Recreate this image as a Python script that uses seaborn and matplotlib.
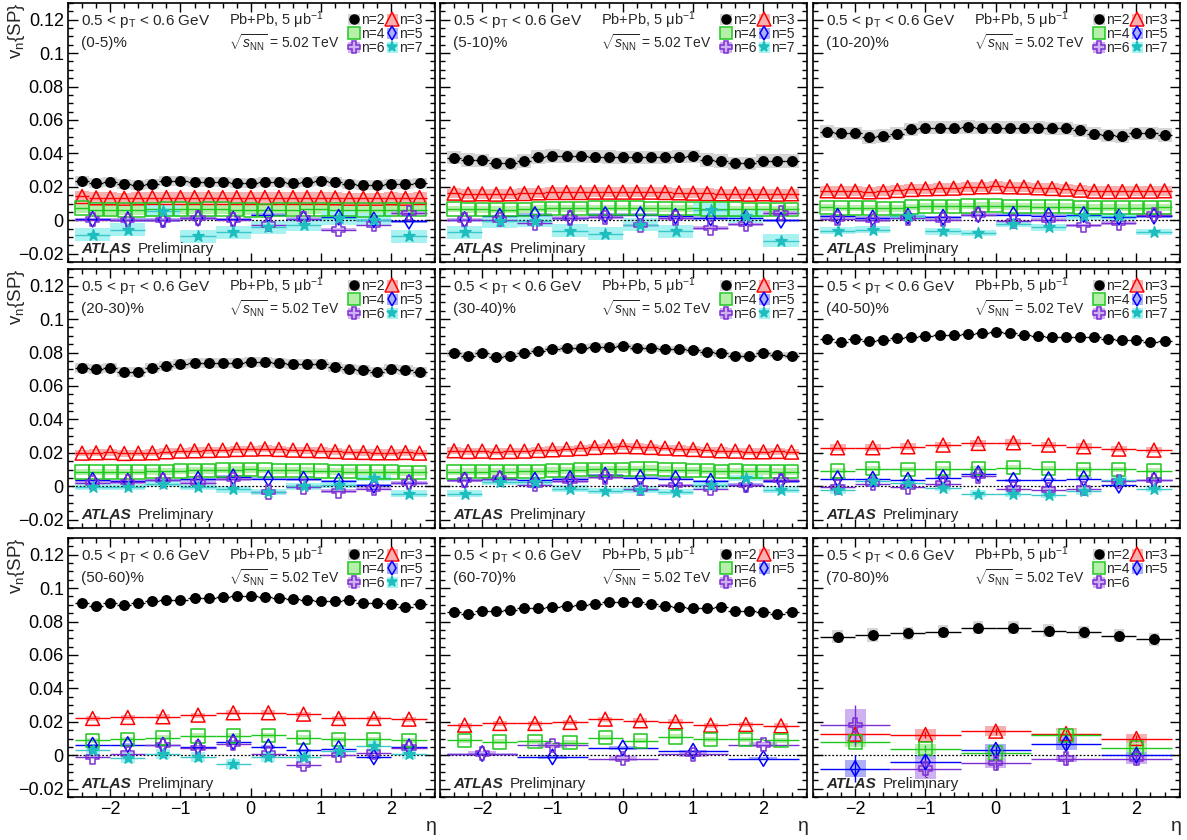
import numpy as np
import pandas as pd
import matplotlib
matplotlib.use("Agg")
import matplotlib.pyplot as plt
from matplotlib.patches import Rectangle
from matplotlib.lines import Line2D
from matplotlib.ticker import MultipleLocator, FixedLocator, FixedFormatter
import seaborn as sns

# DATA: v_n{SP} vs eta, 0.5 < pT < 0.6 GeV
CENT_LABELS = ["(0-5)%", "(5-10)%", "(10-20)%", "(20-30)%", "(30-40)%",
               "(40-50)%", "(50-60)%", "(60-70)%", "(70-80)%"]

# eta bin width used for each harmonic in each centrality panel
BINW2 = [0.2, 0.2, 0.2, 0.2, 0.2, 0.2, 0.2, 0.2, 0.5]
BINW3 = [0.2, 0.2, 0.2, 0.2, 0.2, 0.5, 0.5, 0.5, 1.0]
BINW4 = [0.2, 0.2, 0.2, 0.2, 0.2, 0.5, 0.5, 0.5, 1.0]
BINW5 = [0.5, 0.5, 0.5, 0.5, 0.5, 0.5, 0.5, 1.0, 1.0]
BINW6 = [0.5, 0.5, 0.5, 0.5, 0.5, 0.5, 0.5, 1.0, 1.0]
BINW7 = [0.5, 0.5, 0.5, 0.5, 0.5, 0.5, 0.5, None, None]

V2 = [
    [0.0234, 0.0222, 0.0228, 0.0214, 0.0208, 0.0216, 0.0234, 0.0234, 0.023, 0.023, 0.023, 0.0224, 0.0224,
     0.0228, 0.0228, 0.0224, 0.0228, 0.0232, 0.023, 0.0216, 0.0208, 0.0212, 0.0216, 0.0214, 0.0224],
    [0.0374, 0.036, 0.0358, 0.034, 0.034, 0.0354, 0.0378, 0.0384, 0.0382, 0.0382, 0.038, 0.0378, 0.0376,
     0.0376, 0.0376, 0.0376, 0.038, 0.0382, 0.036, 0.0354, 0.034, 0.034, 0.0354, 0.0354, 0.0354],
    [0.053, 0.052, 0.052, 0.0498, 0.0504, 0.0518, 0.0544, 0.0554, 0.0554, 0.0554, 0.0558, 0.0554, 0.0554,
     0.0554, 0.0554, 0.0554, 0.055, 0.055, 0.0538, 0.0518, 0.0508, 0.0504, 0.052, 0.052, 0.051],
    [0.0706, 0.07, 0.0706, 0.0682, 0.0686, 0.0706, 0.0722, 0.0732, 0.0736, 0.074, 0.074, 0.074, 0.0744,
     0.0744, 0.074, 0.0732, 0.0732, 0.073, 0.0716, 0.07, 0.0696, 0.0686, 0.07, 0.0696, 0.0686],
    [0.0796, 0.0782, 0.0796, 0.0776, 0.0782, 0.0796, 0.081, 0.0822, 0.0826, 0.083, 0.0836, 0.0836, 0.084,
     0.083, 0.0826, 0.0822, 0.082, 0.0816, 0.0802, 0.0796, 0.0782, 0.078, 0.0796, 0.0786, 0.0782],
    [0.088, 0.0866, 0.088, 0.087, 0.0876, 0.0886, 0.0892, 0.0902, 0.0906, 0.0906, 0.0912, 0.0916, 0.0922,
     0.0916, 0.0906, 0.0902, 0.0896, 0.0892, 0.0892, 0.0892, 0.088, 0.0876, 0.0876, 0.0862, 0.0872],
    [0.091, 0.0894, 0.091, 0.09, 0.091, 0.0924, 0.093, 0.093, 0.094, 0.094, 0.0946, 0.0954, 0.095,
     0.0946, 0.094, 0.0934, 0.093, 0.092, 0.092, 0.0926, 0.091, 0.091, 0.0904, 0.089, 0.0904],
    [0.086, 0.0846, 0.0864, 0.0864, 0.087, 0.0884, 0.0884, 0.0886, 0.0896, 0.09, 0.0904, 0.0914, 0.0914,
     0.0914, 0.0904, 0.0894, 0.0886, 0.088, 0.088, 0.0886, 0.0864, 0.0864, 0.086, 0.0846, 0.0856],
    [0.071, 0.072, 0.073, 0.074, 0.0764, 0.0764, 0.0746, 0.0736, 0.0716, 0.0694],
]

V3 = [
    [0.0142, 0.0134, 0.0134, 0.0132, 0.0134, 0.0136, 0.0136, 0.0136, 0.0136, 0.0136, 0.0136, 0.0136, 0.0136,
     0.0136, 0.0136, 0.0136, 0.0136, 0.0136, 0.0134, 0.0132, 0.0132, 0.0132, 0.0134, 0.0132, 0.0136],
    [0.0162, 0.0156, 0.0158, 0.0156, 0.0158, 0.016, 0.0164, 0.0166, 0.0166, 0.0166, 0.0168, 0.0168, 0.0168,
     0.0168, 0.0168, 0.0166, 0.0164, 0.0162, 0.016, 0.0158, 0.0158, 0.0156, 0.0158, 0.0156, 0.0158],
    [0.0176, 0.0174, 0.0174, 0.017, 0.0172, 0.0178, 0.0184, 0.0188, 0.019, 0.0192, 0.0196, 0.02, 0.0202,
     0.02, 0.0198, 0.0194, 0.019, 0.0186, 0.018, 0.0174, 0.0172, 0.0172, 0.0174, 0.0174, 0.0176],
    [0.0198, 0.02, 0.0202, 0.0196, 0.0198, 0.02, 0.0206, 0.021, 0.0212, 0.0214, 0.0216, 0.022, 0.0222,
     0.0224, 0.022, 0.0216, 0.0214, 0.0212, 0.0208, 0.0204, 0.0202, 0.02, 0.02, 0.0202, 0.0198],
    [0.0212, 0.0208, 0.021, 0.0206, 0.0208, 0.021, 0.0214, 0.0218, 0.0222, 0.0226, 0.0232, 0.0236, 0.0238,
     0.0236, 0.0232, 0.0228, 0.0224, 0.022, 0.0216, 0.0212, 0.021, 0.0206, 0.0206, 0.0208, 0.0204],
    [0.023, 0.023, 0.0236, 0.0246, 0.0256, 0.026, 0.0246, 0.0236, 0.0222, 0.0216],
    [0.022, 0.0226, 0.023, 0.024, 0.0254, 0.0254, 0.0246, 0.022, 0.022, 0.0216],
    [0.018, 0.019, 0.019, 0.0196, 0.0216, 0.0206, 0.02, 0.018, 0.0184, 0.0176],
    [0.0126, 0.0124, 0.0144, 0.013, 0.01],
]

V4 = [
    [0.0074, 0.0064, 0.0064, 0.0062, 0.0062, 0.0066, 0.0068, 0.0068, 0.0066, 0.0068, 0.0068, 0.0064, 0.0062,
     0.006, 0.0064, 0.0064, 0.0066, 0.0066, 0.0064, 0.0064, 0.0062, 0.0064, 0.0064, 0.0064, 0.0064],
    [0.0068, 0.0066, 0.0066, 0.0064, 0.0064, 0.0066, 0.007, 0.0072, 0.0072, 0.0072, 0.0074, 0.0074, 0.0074,
     0.0074, 0.0072, 0.0072, 0.007, 0.0072, 0.0068, 0.0068, 0.0068, 0.0066, 0.0066, 0.0066, 0.0066],
    [0.0078, 0.0074, 0.0074, 0.0074, 0.0072, 0.0072, 0.008, 0.0084, 0.0084, 0.0084, 0.0086, 0.0088, 0.0088,
     0.0084, 0.0084, 0.0082, 0.0082, 0.0082, 0.0078, 0.0076, 0.0076, 0.0076, 0.0076, 0.0076, 0.0078],
    [0.0086, 0.0086, 0.0086, 0.0086, 0.0086, 0.009, 0.009, 0.0092, 0.0096, 0.0096, 0.0098, 0.01, 0.0102,
     0.0098, 0.0096, 0.0096, 0.0094, 0.0092, 0.009, 0.0088, 0.0086, 0.0086, 0.0086, 0.0084, 0.0084],
    [0.0086, 0.0088, 0.0088, 0.009, 0.0088, 0.009, 0.009, 0.0094, 0.0096, 0.01, 0.0102, 0.0102, 0.0102,
     0.0104, 0.0106, 0.01, 0.0098, 0.0096, 0.0094, 0.009, 0.0092, 0.009, 0.009, 0.0088, 0.0088],
    [0.0092, 0.0106, 0.0102, 0.0106, 0.0106, 0.0112, 0.0106, 0.0102, 0.0102, 0.0092],
    [0.009, 0.0096, 0.0104, 0.0116, 0.0116, 0.012, 0.0106, 0.0096, 0.0096, 0.009],
    [0.009, 0.008, 0.0084, 0.0076, 0.0106, 0.0086, 0.011, 0.0096, 0.0096, 0.009],
    [0.008, 0.004, 0.0014, 0.012, 0.0046],
]

V5 = [
    [0.0006, 0.0004, 0.0004, 0.0012, 0.0006, 0.0034, 0.001, 0.0018, 0.0002, -0.0006],
    [0.0004, 0.0024, 0.0034, 0.0014, 0.0034, 0.0034, 0.0024, 0.0014, 0.0014, 0.0],
    [0.0024, 0.0014, 0.0024, 0.0018, 0.0034, 0.0034, 0.0028, 0.0034, 0.0018, 0.0024],
    [0.0036, 0.003, 0.0036, 0.0042, 0.0056, 0.0046, 0.0042, 0.003, 0.0006, 0.0022],
    [0.0036, 0.0046, 0.0036, 0.0046, 0.0066, 0.0052, 0.0046, 0.003, 0.001, 0.003],
    [0.0046, 0.0042, 0.0036, 0.0052, 0.0076, 0.0036, 0.004, 0.0046, 0.0006, 0.0036],
    [0.006, 0.0064, 0.006, 0.005, 0.008, 0.005, 0.003, 0.004, -0.001, 0.005],
    [0.001, -0.001, 0.0044, 0.0024, -0.002],
    [-0.008, -0.004, 0.003, 0.007, 0.0],
]

V6 = [
    [0.0004, 0.0, 0.0, 0.0014, 0.0004, -0.0026, 0.001, -0.0056, -0.0026, 0.0044],
    [0.0004, 0.0004, -0.0016, 0.0014, 0.0018, -0.003, 0.0014, -0.0046, -0.0022, 0.0044],
    [0.001, 0.0, 0.0014, 0.0004, 0.0034, -0.0006, 0.0004, -0.003, -0.0016, 0.0034],
    [0.0022, 0.0026, 0.0036, 0.0022, 0.0042, -0.0034, -0.0004, -0.0028, -0.0014, 0.0022],
    [0.0036, 0.0046, 0.001, 0.003, 0.0056, -0.0014, 0.0006, -0.0014, 0.0006, 0.0036],
    [-0.0004, 0.0016, -0.0004, 0.0016, 0.0062, -0.0014, -0.002, -0.0014, 0.003, 0.0036],
    [-0.001, 0.001, 0.006, 0.0044, 0.007, 0.001, -0.0056, 0.0, 0.0016, 0.0046],
    [0.001, 0.006, -0.002, 0.0006, 0.0064],
    [0.018, -0.008, -0.0046, -0.002, -0.002],
]

V7 = [
    [-0.0086, -0.0056, 0.0058, -0.0096, -0.0072, -0.0042, -0.0026, 0.0014, 0.0004, -0.0096],
    [-0.0072, -0.0006, -0.0002, -0.0062, -0.008, -0.0026, -0.0066, 0.0064, 0.0024, -0.0122],
    [-0.0062, -0.0056, 0.0024, -0.0066, -0.0076, -0.0022, -0.0042, 0.0024, 0.0024, -0.007],
    [-0.0004, -0.0004, 0.0016, -0.0004, -0.0018, -0.0034, 0.0, 0.001, 0.005, -0.0044],
    [-0.0044, 0.0026, 0.0026, -0.0014, -0.0028, -0.002, -0.0034, 0.0006, 0.005, -0.002],
    [-0.0024, 0.003, 0.002, -0.001, -0.0044, -0.0044, -0.005, -0.003, 0.004, -0.0014],
    [0.003, -0.0016, 0.0006, -0.001, -0.005, -0.001, -0.001, 0.0024, 0.0056, 0.0006],
    None,
    None,
]

# systematic uncertainty (half height of the shaded boxes)
SYS2 = [0.003, 0.004, 0.004, 0.003, 0.002, 0.001, 0.001, 0.001, 0.004]
SYS3 = [0.0033, 0.003, 0.003, 0.002, 0.002, 0.002, 0.0015, 0.0015, 0.003]
SYS4 = [0.003, 0.002, 0.002, 0.002, 0.002, 0.0015, 0.0015, 0.0015, 0.003]
SYS5 = [0.001, 0.001, 0.001, 0.001, 0.001, 0.001, 0.001, 0.001, [0.005, 0.004, 0.004, 0.004, 0.002]]
SYS6 = [0.001, 0.001, 0.001, 0.001, 0.001, 0.0015, 0.001, 0.0015, [0.0095, 0.006, 0.003, 0.002, 0.003]]
SYS7 = [0.004, 0.004, 0.002, 0.002, 0.002, 0.002, 0.003, None, None]

# statistical errors visible only in the most peripheral bin
STAT_70_80 = {2: [0.001] * 10,
              3: [0.002, 0.002, 0.002, 0.002, 0.002],
              4: [0.003, 0.002, 0.002, 0.002, 0.002],
              5: [0.008, 0.004, 0.003, 0.004, 0.003],
              6: [0.012, 0.005, 0.004, 0.004, 0.004]}

YTICKS = [-0.02, 0, 0.02, 0.04, 0.06, 0.08, 0.1, 0.12]
YTICK_LABELS = ["\u22120.02", "0", "0.02", "0.04", "0.06", "0.08", "0.1", "0.12"]
XTICKS = [-2, -1, 0, 1, 2]
XTICK_LABELS = ["\u22122", "\u22121", "0", "1", "2"]

VN = {2: V2, 3: V3, 4: V4, 5: V5, 6: V6, 7: V7}
BINW = {2: BINW2, 3: BINW3, 4: BINW4, 5: BINW5, 6: BINW6, 7: BINW7}
SYS = {2: SYS2, 3: SYS3, 4: SYS4, 5: SYS5, 6: SYS6, 7: SYS7}

# STYLE per harmonic: marker, size, face, edge, line colour, box colour
STYLE = {
    2: dict(marker="o", s=46, fc="black", ec="black", line="black", box="#d6d6d6"),
    3: dict(marker="^", s=100, fc="none", ec="#ff0000", line="#ff0000", box="#f7b0b0"),
    4: dict(marker="s", s=92, fc="none", ec="#1ec81e", line="#1ec81e", box="#b6efaa"),
    5: dict(marker="d", s=62, fc="none", ec="#0000ff", line="#0000ff", box="#aeb0f5"),
    6: dict(marker="P", s=92, fc="none", ec="#7b2fd3", line="#7b2fd3", box="#cfb0f0"),
    7: dict(marker="*", s=70, fc="#1ebebe", ec="#1ebebe", line="#3cc8c8", box="#a8f2f2"),
}
BOXFRAC = [1.0, 1.0, 1.0, 1.0, 1.0, 0.45, 0.4, 0.4, 0.3]

sns.set_theme(style="ticks")
plt.rcParams['font.family'] = ['Liberation Sans', 'DejaVu Sans']
plt.rcParams['mathtext.fontset'] = 'custom'
plt.rcParams['mathtext.rm'] = 'Liberation Sans'
plt.rcParams['mathtext.it'] = 'Liberation Sans:italic'
plt.rcParams['mathtext.bf'] = 'Liberation Sans:bold'

W, H = 1187, 840
fig = plt.figure(figsize=(W / 100, H / 100), dpi=100)
fig.patch.set_facecolor("white")

lefts = [68, 440, 813]
tops = [3, 269, 538]
aw, ah = 367, 259

for i in range(9):
    r, c = divmod(i, 3)
    ax = fig.add_axes([lefts[c] / W, 1 - (tops[r] + ah) / H, aw / W, ah / H])
    ax.set_facecolor("white")
    ax.axhline(0, color="black", lw=0.9, ls=(0, (1.5, 1.5)), zorder=1.5)

    handles = {}
    for n in [2, 3, 4, 5, 6, 7]:
        v = VN[n][i]
        if v is None:
            continue
        st = STYLE[n]
        w = BINW[n][i]
        nb = int(round(5 / w))
        eta = np.linspace(-2.5 + w / 2, 2.5 - w / 2, nb)
        v = np.array(v)
        sys_ = np.broadcast_to(np.array(SYS[n][i], dtype=float), v.shape)
        stat = STAT_70_80.get(n) if i == 8 else None

        ax.bar(eta, 2 * sys_, bottom=v - sys_, width=w * BOXFRAC[i],
               color=st["box"], edgecolor="none", zorder=1)
        ax.errorbar(eta, v, xerr=w / 2, yerr=stat, fmt="none", ecolor=st["line"],
                    elinewidth=1.0, capsize=0, zorder=2)
        df = pd.DataFrame({"eta": eta, "v": v})
        sns.scatterplot(data=df, x="eta", y="v", ax=ax, marker=st["marker"], s=st["s"],
                        facecolor=st["fc"], edgecolor=st["ec"], linewidth=1.1,
                        zorder=3, legend=False)

        box = Rectangle((0, 0), 1, 1, facecolor=st["box"], edgecolor="none")
        mk = Line2D([], [], ls="none", marker=st["marker"], markersize=np.sqrt(st["s"]) * 0.95,
                    markerfacecolor=st["fc"], markeredgecolor=st["ec"], markeredgewidth=1.1)
        handles[n] = ((box, mk), f"n={n}")

    order = [k for k in [2, 4, 6, 3, 5, 7] if k in handles]
    ax.legend([handles[k][0] for k in order], [handles[k][1] for k in order],
              ncol=2, loc="upper right", bbox_to_anchor=(0.97, 0.965), frameon=False,
              fontsize=10, handlelength=0.8, handleheight=0.8, handletextpad=0.1,
              columnspacing=0.15, labelspacing=0.0, borderpad=0.1, borderaxespad=0)

    ax.set_xlim(-2.6, 2.62)
    ax.set_ylim(-0.025, 0.13)
    ax.set_xlabel("")
    ax.set_ylabel("")
    ax.xaxis.set_major_locator(FixedLocator(XTICKS))
    ax.xaxis.set_minor_locator(MultipleLocator(0.2))
    ax.yaxis.set_major_locator(FixedLocator(YTICKS))
    ax.yaxis.set_minor_locator(MultipleLocator(0.005))
    ax.tick_params(which="both", direction="in", top=True, right=True, width=1.0, color="black")
    ax.tick_params(axis="y", which="major", length=7.5)
    ax.tick_params(axis="y", which="minor", length=3.8)
    ax.tick_params(axis="x", which="major", length=6.5)
    ax.tick_params(axis="x", which="minor", length=3.3)
    ax.tick_params(axis="both", labelsize=13, labelcolor="black", pad=3)
    for sp in ax.spines.values():
        sp.set_linewidth(1.2)
        sp.set_color("black")

    if c == 0:
        ax.yaxis.set_major_formatter(FixedFormatter(YTICK_LABELS))
        ax.text(-0.14, 1.0, r"v$_{\mathrm{n}}${SP}", transform=ax.transAxes, rotation=90,
                ha="center", va="top", fontsize=13.5)
    else:
        ax.set_yticklabels([])
    if r == 2:
        ax.xaxis.set_major_formatter(FixedFormatter(XTICK_LABELS))
        ax.text(0.99, -0.115, "\u03b7", transform=ax.transAxes, ha="center", va="center",
                fontsize=14)
    else:
        ax.set_xticklabels([])

    ax.text(0.035, 0.93, r"0.5 < p$_{\mathrm{T}}$ < 0.6 GeV", transform=ax.transAxes,
            ha="left", va="center", fontsize=11)
    ax.text(0.035, 0.845, CENT_LABELS[i], transform=ax.transAxes,
            ha="left", va="center", fontsize=11)
    ax.text(0.44, 0.935, "Pb+Pb, 5 \u03bcb$^{-1}$", transform=ax.transAxes,
            ha="left", va="center", fontsize=10.5)
    ax.text(0.44, 0.845, r"$\sqrt{s_{\mathrm{NN}}}$ = 5.02 TeV", transform=ax.transAxes,
            ha="left", va="center", fontsize=10)
    ax.text(0.035, 0.05, "ATLAS", transform=ax.transAxes, ha="left", va="center",
            fontsize=11, fontweight="bold", fontstyle="italic")
    ax.text(0.19, 0.05, "Preliminary", transform=ax.transAxes, ha="left", va="center",
            fontsize=11)

fig.savefig("out.png", dpi=100, facecolor="white")
